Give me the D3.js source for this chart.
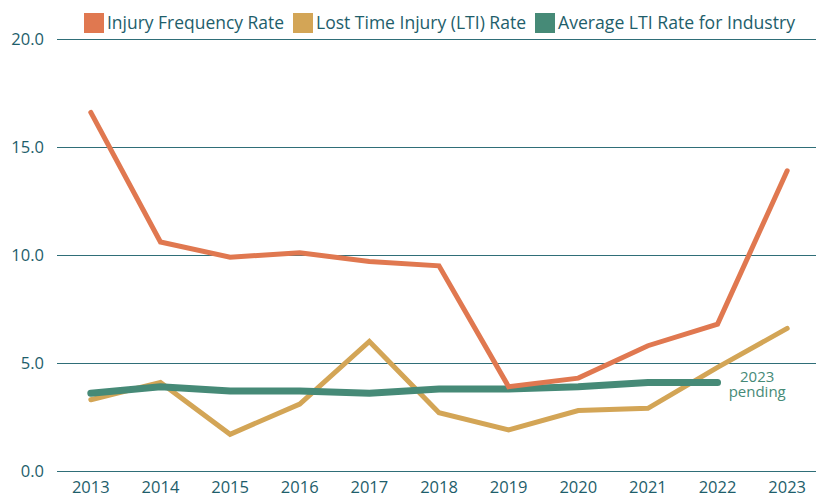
<!DOCTYPE html>
<html>
  <head>
    <meta charset="UTF-8">
    <title>Injury rates</title>
    <script src="https://d3js.org/d3.v7.min.js"></script>
    <style>
      body { margin: 0; background: #fff; }
      text { font-family: "Open Sans", sans-serif; fill: #1e5e6b; }
    </style>
  </head>
  <body>
    <svg width="816" height="495"></svg>
    <script>
      const years = ["2013", "2014", "2015", "2016", "2017", "2018", "2019", "2020", "2021", "2022", "2023"];
      const injuryFrequency = [16.6, 10.6, 9.9, 10.1, 9.7, 9.5, 3.9, 4.3, 5.8, 6.8, 13.9];
      const ltiRate = [3.3, 4.1, 1.7, 3.1, 6.0, 2.7, 1.9, 2.8, 2.9, 4.8, 6.6];
      const industryAverage = [3.6, 3.9, 3.7, 3.7, 3.6, 3.8, 3.8, 3.9, 4.1, 4.1, null];
      const yTicks = [0, 5, 10, 15, 20];

      const series = [
        { name: "Lost Time Injury (LTI) Rate", values: ltiRate, color: "#d3a556", width: 5 },
        { name: "Average LTI Rate for Industry", values: industryAverage, color: "#468a77", width: 7 },
        { name: "Injury Frequency Rate", values: injuryFrequency, color: "#e07850", width: 5 },
      ];
      const legendOrder = [2, 0, 1];

      const width = 816;
      const height = 495;
      const margin = { top: 39, right: -6, bottom: 24, left: 56 };

      const svg = d3.select("svg");

      const x = d3.scalePoint()
        .domain(years)
        .range([margin.left, width - margin.right])
        .padding(0.5);

      const y = d3.scaleLinear()
        .domain([0, 20])
        .range([height - margin.bottom, margin.top]);

      // gridlines + y labels
      svg.append("g")
        .selectAll("line")
        .data(yTicks)
        .join("line")
        .attr("x1", margin.left + 1)
        .attr("x2", width)
        .attr("y1", d => Math.round(y(d)) + 0.5)
        .attr("y2", d => Math.round(y(d)) + 0.5)
        .attr("stroke", "#2f6e78")
        .attr("stroke-width", 1);

      svg.append("g")
        .selectAll("text")
        .data(yTicks)
        .join("text")
        .attr("x", 44)
        .attr("y", d => y(d) + 6)
        .attr("text-anchor", "end")
        .attr("font-size", 16.5)
        .text(d => d.toFixed(1));

      // x labels
      svg.append("g")
        .selectAll("text")
        .data(years)
        .join("text")
        .attr("x", d => x(d))
        .attr("y", 493)
        .attr("text-anchor", "middle")
        .attr("font-size", 16.5)
        .text(d => d);

      const line = d3.line()
        .defined(d => d.v != null)
        .x(d => x(d.year))
        .y(d => y(d.v));

      svg.append("g")
        .selectAll("path")
        .data(series)
        .join("path")
        .attr("fill", "none")
        .attr("stroke", d => d.color)
        .attr("stroke-width", d => d.width)
        .attr("stroke-linecap", "round")
        .attr("stroke-linejoin", "miter")
        .attr("d", d => line(d.values.map((v, i) => ({ year: years[i], v }))));

      // note for missing 2023 industry value
      const noteX = x("2023") - 30;
      const note = svg.append("text")
        .attr("x", noteX)
        .attr("y", 382)
        .attr("text-anchor", "middle")
        .attr("font-size", 15)
        .style("fill", "#468a77");
      note.append("tspan").text("2023");
      note.append("tspan").attr("x", noteX).attr("dy", 15).text("pending");

      // legend (condensed lettering in the original, so fit each label to its width)
      const legendX = [84, 293, 535];
      const legendW = [177, 210, 237];
      const legend = svg.append("g")
        .selectAll("g")
        .data(legendOrder.map(i => series[i]))
        .join("g")
        .attr("transform", (d, i) => `translate(${legendX[i]},13)`);

      legend.append("rect")
        .attr("width", 20)
        .attr("height", 20)
        .attr("fill", d => d.color);

      legend.append("text")
        .attr("x", 23)
        .attr("y", 16)
        .attr("font-size", 19)
        .attr("textLength", (d, i) => legendW[i])
        .attr("lengthAdjust", "spacingAndGlyphs")
        .text(d => d.name);
    </script>
  </body>
</html>
